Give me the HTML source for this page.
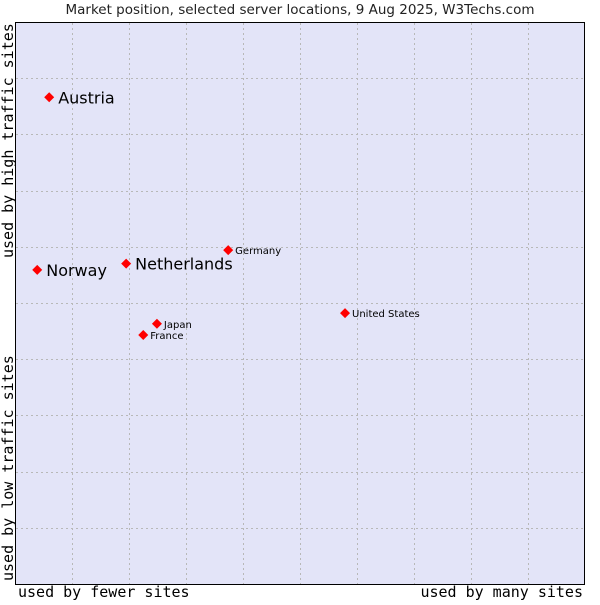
<!DOCTYPE html>
<html><head><meta charset="utf-8"><style>
body{margin:0;background:#fff;width:600px;height:600px;overflow:hidden}
</style></head><body>
<svg width="600" height="600">
<text x="300" y="14" text-anchor="middle" font-family="DejaVu Sans, sans-serif" font-size="13.5" fill="#222">Market position, selected server locations, 9 Aug 2025, W3Techs.com</text>
<rect x="15.5" y="22.5" width="569" height="562" fill="#e3e4f8" stroke="#000" stroke-width="1"/>
<g id="grid"></g>
<g id="pts"></g>
<text x="18" y="597" font-family="DejaVu Sans Mono, monospace" font-size="15" fill="#000">used by fewer sites</text>
<text x="583" y="597" text-anchor="end" font-family="DejaVu Sans Mono, monospace" font-size="15" fill="#000">used by many sites</text>
<text transform="translate(13,258) rotate(-90)" font-family="DejaVu Sans Mono, monospace" font-size="15" fill="#000">used by high traffic sites</text>
<text transform="translate(13,581) rotate(-90)" font-family="DejaVu Sans Mono, monospace" font-size="15" fill="#000">used by low traffic sites</text>
</svg>
<script>
const names=["Austria","Norway","Netherlands","Germany","United States","Japan","France"];
const xVals=[6.0,3.9,19.5,37.4,57.9,24.9,22.5];
const yVals=[86.6,55.9,57.0,59.4,48.2,46.3,44.3];
const big=[true,true,true,false,false,false,false];
const X0=15,X1=585,Y0=584,Y1=22;
const sx=v=>X0+v/100*(X1-X0), sy=v=>Y0-v/100*(Y0-Y1);
const NS="http://www.w3.org/2000/svg";
const grid=document.getElementById('grid');
for(let i=1;i<10;i++){
 const v=document.createElementNS(NS,'line');
 
 
 const x=Math.round(sx(i*10))+0.5;
 v.setAttribute('x1',x);v.setAttribute('x2',x);v.setAttribute('y1',23);v.setAttribute('y2',584);
 v.setAttribute('stroke','#b8b8b8');v.setAttribute('stroke-dasharray','2,3');grid.appendChild(v);
 const h=document.createElementNS(NS,'line');
 
 
 const y=Math.round(sy(i*10))+0.5;
 h.setAttribute('y1',y);h.setAttribute('y2',y);h.setAttribute('x1',16);h.setAttribute('x2',584);
 h.setAttribute('stroke','#b8b8b8');h.setAttribute('stroke-dasharray','2,3');grid.appendChild(h);
}
const pts=document.getElementById('pts');
names.forEach((n,i)=>{
 const x=sx(xVals[i]),y=sy(yVals[i]);
 const d=document.createElementNS(NS,'path');
 
 
 d.setAttribute('d',`M${x-5},${y} L${x},${y-5} L${x+5},${y} L${x},${y+5}Z`);
 d.setAttribute('fill','#f00');pts.appendChild(d);
 const t=document.createElementNS(NS,'text');
 
 
 t.setAttribute('x',x+(big[i]?9:7));t.setAttribute('y',y+(big[i]?6:4));
 t.setAttribute('font-family','DejaVu Sans, sans-serif');
 t.setAttribute('font-size',big[i]?16:10);t.setAttribute('fill','#000');
 t.textContent=n;pts.appendChild(t);
});
</script>
</body></html>
